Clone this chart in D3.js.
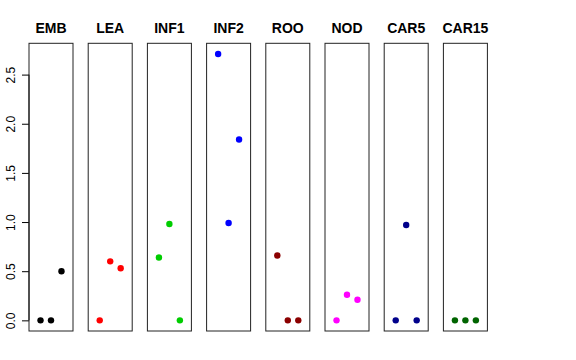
<!DOCTYPE html>
<html>
<head>
<meta charset="utf-8">
<script src="https://cdn.jsdelivr.net/npm/d3@7"></script>
<style>
  body { margin: 0; background: #fff; }
  text { font-family: "Liberation Sans", Arial, Helvetica, sans-serif; }
</style>
</head>
<body>
<div id="chart"></div>
<script>
// panel names, point colours and the three values shown in each panel
var panels = ["EMB", "LEA", "INF1", "INF2", "ROO", "NOD", "CAR5", "CAR15"];
var colors = ["#000000", "#ff0000", "#00cd00", "#0000ff", "#8b0000", "#ff00ff", "#00008b", "#006400"];
var values = [
  [0, 0, 0.50],
  [0, 0.60, 0.53],
  [0.64, 0.98, 0],
  [2.71, 0.99, 1.84],
  [0.66, 0, 0],
  [0, 0.26, 0.21],
  [0, 0.97, 0],
  [0, 0, 0]
];
var yTicks = [0, 0.5, 1, 1.5, 2, 2.5];

var width = 576;
var height = 360;

// panel box parameters
var boxLeft = 29;
var boxWidth = 44;
var boxPitch = 59.2;
var boxTop = 43.3;
var boxBottom = 331;

var svg = d3.select("#chart").append("svg")
    .attr("width", width)
    .attr("height", height);

// y range like R: data range plus 4% each side
var yMax = d3.max(values, function(v) { return d3.max(v); });
var pad = yMax * 0.04;
var y = d3.scaleLinear()
    .domain([-pad, yMax + pad])
    .range([boxBottom, boxTop]);

var x = d3.scaleLinear()
    .domain([-0.1, 4.1])
    .range([0, boxWidth]);

// y axis on the first panel only
var yAxis = d3.axisLeft(y)
    .tickValues(yTicks)
    .tickSize(7)
    .tickFormat(d3.format(".1f"));

var axisG = svg.append("g")
  .attr("transform", "translate(" + boxLeft + ",0)")
  .call(yAxis);

axisG.select(".domain")
  .attr("d", "M0," + y(0) + "V" + y(2.5))
  .attr("stroke", "#000");
axisG.selectAll(".tick line").attr("stroke", "#000");
axisG.selectAll(".tick text")
  .attr("font-size", 12)
  .attr("fill", "#000")
  .attr("x", null)
  .attr("dy", null)
  .attr("text-anchor", "middle")
  .attr("transform", "translate(-14.5,0) rotate(-90)");

for (var i = 0; i < panels.length; i++) {
  var g = svg.append("g")
    .attr("transform", "translate(" + (boxLeft + i * boxPitch) + ",0)");

  g.append("rect")
    .attr("x", 0)
    .attr("y", boxTop)
    .attr("width", boxWidth)
    .attr("height", boxBottom - boxTop)
    .attr("fill", "none")
    .attr("stroke", "#222")
    .attr("stroke-width", 1);

  g.append("text")
    .attr("x", boxWidth / 2)
    .attr("y", 33)
    .attr("text-anchor", "middle")
    .attr("font-weight", "bold")
    .attr("font-size", 14)
    .text(panels[i]);

  g.selectAll("circle")
    .data(values[i])
    .enter().append("circle")
      .attr("cx", function(d, j) { return x(j + 1); })
      .attr("cy", function(d) { return y(d); })
      .attr("r", 3.2)
      .attr("fill", colors[i]);
}
</script>
</body>
</html>
